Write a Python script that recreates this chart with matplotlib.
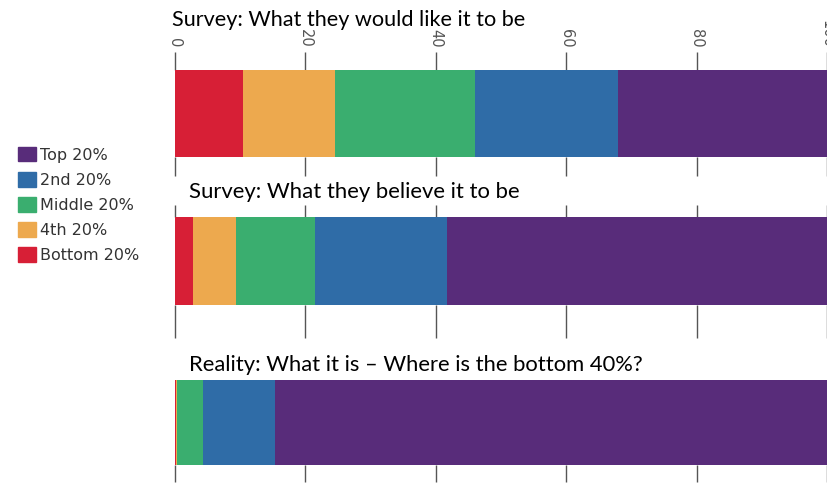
import numpy as np
import matplotlib.pyplot as plt
from matplotlib.patches import Patch

# Wealth share held by each quintile (percent), bottom quintile first
groups = ["Bottom 20%", "4th 20%", "Middle 20%", "2nd 20%", "Top 20%"]
colors = ["#d71f36", "#eda94e", "#3aae6f", "#2f6ca7", "#582c7a"]
ideal = [10.5, 14.0, 21.5, 22.0, 32.0]
believed = [2.8, 6.5, 12.1, 20.3, 58.3]
reality = [0.1, 0.2, 4.0, 11.0, 84.7]
titles = ["Survey: What they would like it to be",
          "Survey: What they believe it to be",
          "Reality: What it is \u2013 Where is the bottom 40%?"]
ticks = [0, 20, 40, 60, 80, 100]

fig = plt.figure(figsize=(8.27, 4.87), dpi=100)

# axes boxes in figure fraction: left, bottom, width, height
left = 175 / 827
width = 1 - left
boxes = [(left, 1 - 157 / 487, width, 87 / 487),
         (left, 1 - 305 / 487, width, 88 / 487),
         (left, 1 - 465 / 487, width, 85 / 487)]
title_pos = [(172 / 827, 1 - 20 / 487), (189 / 827, 1 - 192 / 487), (189 / 827, 1 - 365 / 487)]
title_size = [15.6, 15.9, 15.8]
bottom_len = [14, 24, 12]   # tick lengths in points
top_len = [13, 9, 0]

for i, vals in enumerate([ideal, believed, reality]):
    ax = fig.add_axes(boxes[i])
    starts = np.concatenate([[0], np.cumsum(vals)[:-1]])
    for g, v, s, c in zip(groups, vals, starts, colors):
        ax.barh(0, v, left=s, height=1, color=c, label=g, linewidth=0)
    ax.set_xlim(0, 99.7)
    ax.set_ylim(-0.5, 0.5)
    ax.set_yticks([])
    for sp in ax.spines.values():
        sp.set_visible(False)
    ax.set_xticks(ticks)
    ax.tick_params(axis="x", direction="out", length=bottom_len[i], width=1,
                   color="#555555", bottom=True, labelbottom=False)
    # top ticks drawn as a secondary axis so they can have their own length
    if top_len[i]:
        top = ax.secondary_xaxis("top")
        top.set_xticks(ticks)
        top.spines["top"].set_visible(False)
        top.tick_params(axis="x", direction="out", length=top_len[i], width=1,
                        color="#555555", labelsize=10.5, labelcolor="#555555", pad=3,
                        labeltop=(i == 0))
        if i == 0:
            plt.setp(top.get_xticklabels(), rotation=-90, ha="center", va="bottom")
    fig.text(title_pos[i][0], title_pos[i][1], titles[i], fontsize=title_size[i],
             family="Lato", color="black", va="center", ha="left")

handles = [Patch(color=c, label=g) for g, c in zip(groups, colors)][::-1]
fig.legend(handles=handles, loc="upper left", bbox_to_anchor=(0.014, 0.712),
           frameon=False, handlelength=1.1, handleheight=1.05,
           handletextpad=0.3, labelspacing=0.58, borderaxespad=0,
           labelcolor="#333333", prop={"family": "DejaVu Sans", "size": 11.5})

fig.savefig("out.png", dpi=100)
